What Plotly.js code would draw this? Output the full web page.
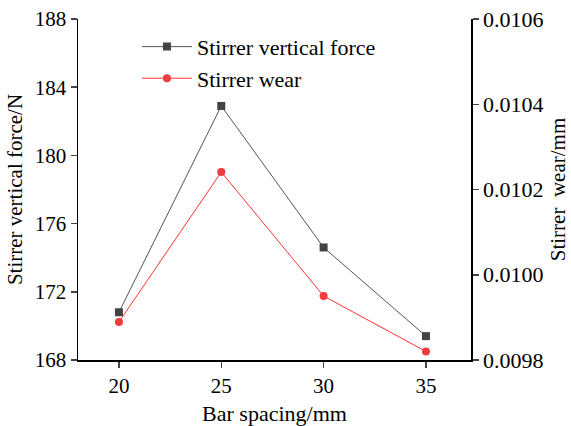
<!DOCTYPE html>
<html><head><meta charset="utf-8">
<script src="https://cdn.plot.ly/plotly-3.0.1.min.js"></script>
<style>html,body{margin:0;padding:0;background:#fff}</style>
</head><body><div id="chart" style="width:571px;height:426px"></div>
<script>
const barSpacing = [20, 25, 30, 35];
const verticalForce = [170.8, 182.9, 174.6, 169.4];
const wear = [0.009889, 0.010241, 0.00995, 0.00982];
const forceTicks = [168, 172, 176, 180, 184, 188];
const wearTicks = [0.0098, 0.0100, 0.0102, 0.0104, 0.0106];

const font = 'Liberation Serif';
const traces = [
  {x: barSpacing, y: verticalForce, name: 'Stirrer vertical force', type: 'scatter', mode: 'lines+markers',
   line: {color: '#555555', width: 1}, marker: {symbol: 'square', size: 8, color: '#444444'}, yaxis: 'y'},
  {x: barSpacing, y: wear, name: 'Stirrer wear', type: 'scatter', mode: 'lines+markers',
   line: {color: '#ff3333', width: 1}, marker: {symbol: 'circle', size: 8, color: '#f03c3c'}, yaxis: 'y2'}
];
const layout = {
  width: 571, height: 426,
  margin: {l: 78, r: 100, t: 19, b: 66},
  paper_bgcolor: '#fff', plot_bgcolor: '#fff',
  font: {family: font, size: 21, color: '#000'},
  showlegend: true,
  legend: {x: 0.15, y: 0.98, xanchor: 'left', yanchor: 'top', bgcolor: 'rgba(0,0,0,0)',
           font: {family: font, size: 22}, tracegroupgap: 0, itemwidth: 50},
  xaxis: {range: [18, 37.2], tickvals: barSpacing, ticks: 'outside', ticklen: 6, tickwidth: 1.5,
          showline: true, linewidth: 1.5, linecolor: '#000', showgrid: false, zeroline: false,
          title: {text: 'Bar spacing/mm', font: {family: font, size: 22}, standoff: 12},
          tickfont: {family: font, size: 21}},
  yaxis: {range: [168, 188], tickvals: forceTicks, ticks: 'outside', ticklen: 6, tickwidth: 1.5,
          showline: true, linewidth: 1.5, linecolor: '#000', showgrid: false, zeroline: false,
          title: {text: 'Stirrer vertical force/N', font: {family: font, size: 21}, standoff: 6},
          tickfont: {family: font, size: 21}},
  yaxis2: {range: [0.0098, 0.0106], tickvals: wearTicks, tickformat: '.4f', overlaying: 'y', side: 'right',
           ticks: 'outside', ticklen: 6, tickwidth: 1.5,
           showline: true, linewidth: 1.5, linecolor: '#000', showgrid: false, zeroline: false,
           title: {text: 'Stirrer  wear/mm', font: {family: font, size: 21}, standoff: 8},
           tickfont: {family: font, size: 22}}
};
Plotly.newPlot('chart', traces, layout, {displayModeBar: false, staticPlot: true});
</script></body></html>
